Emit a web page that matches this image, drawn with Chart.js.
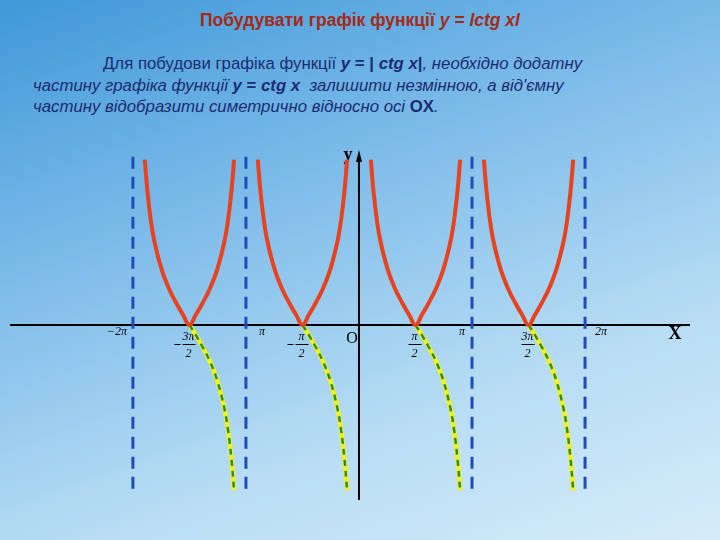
<!DOCTYPE html>
<html lang="uk">
<head>
<meta charset="UTF-8">
<title>y = |ctg x|</title>
<script src="https://cdn.jsdelivr.net/npm/chart.js"></script>
<style>
  body { margin: 0; width: 720px; height: 540px; overflow: hidden; position: relative;
         background: linear-gradient(160deg, #3f98d8 0%, #7cbbe9 35%, #b6dcf4 70%, #d6ecf9 100%);
         font-family: "Liberation Sans", Arial, sans-serif; }
  #title { position: absolute; top: 10px; left: 0; width: 720px; text-align: center;
           font-size: 17.5px; font-weight: bold; color: #a52a18; }
  #text { position: absolute; top: 53px; left: 33px; width: 690px; font-size: 16.8px;
          line-height: 21.5px; color: #1c2c70; font-style: italic; }
  #text b { font-style: normal; }
  canvas { position: absolute; left: 0; top: 0; }
</style>
</head>
<body>
<div id="title">Побудувати графік функції <i>y = lctg xl</i></div>
<div id="text"><span style="padding-left:70px;font-style:normal">Для побудови графіка функції</span> <b><i>y</i> = | <i>ctg x</i>|</b>, необхідно додатну<br>
частину графіка функції <b><i>y</i> = <i>ctg x</i></b>&nbsp; залишити незмінною, а від'ємну<br>
частину відобразити симетрично відносно осі <b>OX</b>.</div>
<canvas id="c" width="720" height="540"></canvas>
<script>
  // offsets from the left asymptote of a period and ctg values
  const offsets = [0.33, 0.4, 0.5, 0.6, 0.8, 1.0, 1.2, 1.4, 1.5708];
  const ctgVals = [2.9, 2.37, 1.83, 1.46, 0.97, 0.64, 0.39, 0.17, 0];
  const periodStarts = [-2 * Math.PI, -Math.PI, 0, Math.PI];
  const asymptotes = [-2 * Math.PI, -Math.PI, Math.PI, 2 * Math.PI];
  const tickLabels = [
    { x: -2 * Math.PI, text: "−2π", dx: -16 },
    { x: -1.5 * Math.PI, text: "3π", frac: true, minus: true },
    { x: -Math.PI, text: "π", dx: 16 },
    { x: -0.5 * Math.PI, text: "π", frac: true, minus: true },
    { x: 0.5 * Math.PI, text: "π", frac: true },
    { x: Math.PI, text: "π", dx: -10 },
    { x: 1.5 * Math.PI, text: "3π", frac: true },
    { x: 2 * Math.PI, text: "2π", dx: 16 }
  ];

  const datasets = [];
  periodStarts.forEach(a => {
    // |ctg x| : left branch then mirrored right branch
    const abs = [];
    offsets.forEach((t, i) => abs.push({ x: a + t, y: ctgVals[i] }));
    for (let i = offsets.length - 2; i >= 0; i--) abs.push({ x: a + Math.PI - offsets[i], y: ctgVals[i] });
    datasets.push({ data: abs, borderColor: "#e8421e", borderWidth: 4, tension: 0.4, order: 0 });
  });
  periodStarts.forEach(a => {
    const neg = [];
    for (let i = offsets.length - 1; i >= 0; i--) neg.push({ x: a + Math.PI - offsets[i], y: -ctgVals[i] });
    datasets.push({ data: neg, borderColor: "#f2f21c", borderWidth: 4.5, tension: 0.4, order: 2 });
    datasets.push({ data: neg, borderColor: "#2e8b2e", borderWidth: 2.5, borderDash: [6, 5], tension: 0.4, order: 1 });
  });
  asymptotes.forEach(x => {
    datasets.push({ data: [{ x: x, y: 2.95 }, { x: x, y: -3.0 }], borderColor: "#1f4cb8", borderWidth: 3, borderDash: [12, 8], order: 3 });
  });

  const axesPlugin = {
    id: "axes",
    beforeDatasetsDraw(chart) {
      const { ctx, scales: { x, y } } = chart;
      const x0 = x.getPixelForValue(0), y0 = y.getPixelForValue(0);
      ctx.save();
      ctx.strokeStyle = "#000"; ctx.lineWidth = 2;
      ctx.beginPath();
      ctx.moveTo(10, y0); ctx.lineTo(chart.chartArea.right, y0);
      ctx.moveTo(x0, chart.chartArea.bottom); ctx.lineTo(x0, chart.chartArea.top + 8);
      ctx.stroke();
      ctx.fillStyle = "#000";
      ctx.beginPath();
      ctx.moveTo(x0, chart.chartArea.top); ctx.lineTo(x0 - 3, chart.chartArea.top + 12); ctx.lineTo(x0 + 3, chart.chartArea.top + 12);
      ctx.fill();
      ctx.font = "bold 18px 'Liberation Serif', serif";
      ctx.textAlign = "center";
      ctx.fillText("y", x0 - 11, chart.chartArea.top + 10);
      ctx.fillText("X", chart.chartArea.right - 15, y0 + 14);
      ctx.font = "16px 'Liberation Serif', serif";
      ctx.fillText("O", x0 - 7, y0 + 18);
      ctx.font = "italic 12px 'Liberation Serif', serif";
      tickLabels.forEach(l => {
        const px = x.getPixelForValue(l.x);
        if (l.frac) {
          ctx.fillText(l.text, px - 1, y0 + 15);
          ctx.fillRect(px - 7, y0 + 19, 13, 1);
          ctx.fillText("2", px - 1, y0 + 32);
          if (l.minus) ctx.fillRect(px - 15, y0 + 19, 6, 1);
        } else {
          ctx.fillText(l.text, px + l.dx, y0 + 10);
        }
      });
      ctx.restore();
    }
  };

  new Chart(document.getElementById("c"), {
    type: "scatter",
    data: { datasets: datasets.map(d => Object.assign({ showLine: true, pointRadius: 0, fill: false }, d)) },
    options: {
      responsive: false, animation: false,
      layout: { padding: { left: 15, right: 30, top: 150, bottom: 40 } },
      plugins: { legend: { display: false }, tooltip: { enabled: false } },
      scales: {
        x: { type: "linear", min: -9.56, max: 9.2, display: false },
        y: { type: "linear", min: -3.07, max: 3.07, display: false }
      }
    },
    plugins: [axesPlugin]
  });
</script>
</body>
</html>
